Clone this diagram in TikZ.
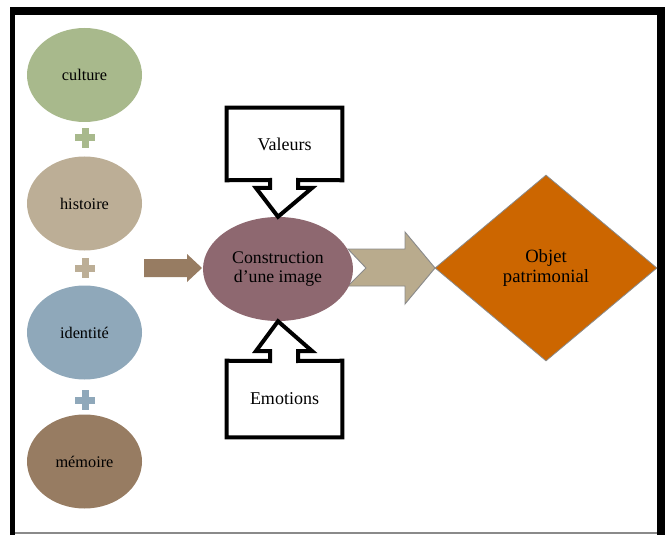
\documentclass[tikz,border=0pt]{standalone}
\usepackage{fontspec}
\setmainfont{Liberation Serif}
\usetikzlibrary{shapes.geometric}

\definecolor{cultureC}{HTML}{A8B98C}
\definecolor{histoireC}{HTML}{BCAE96}
\definecolor{identiteC}{HTML}{8FA8BA}
\definecolor{memoireC}{HTML}{977C62}
\definecolor{constrC}{HTML}{8E6870}
\definecolor{bigarrowC}{HTML}{B9AB8D}
\definecolor{objetC}{HTML}{CC6600}
\definecolor{edgeC}{HTML}{8A8A8A}

\tikzset{
  blob/.style={ellipse, inner sep=0pt, minimum width=86.25pt, minimum height=70.5pt,
    font=\fontsize{12.2}{14}\selectfont},
  calloutbox/.style={inner sep=0pt, minimum width=86.25pt, font=\fontsize{13.5}{15}\selectfont},
  calloutline/.style={draw=black, line width=3pt, line join=miter, fill=white},
}

\begin{document}
\begin{tikzpicture}[x=0.75pt,y=-0.75pt]
\useasboundingbox (0,0) rectangle (665,535);

% outer frame
\fill[black] (10,7) rectangle (665,15);
\fill[black] (10,7) rectangle (15,535);
\fill[black] (657,7) rectangle (665,535);
\draw[edgeC, line width=0.9pt] (15,533) -- (657,533);

% left column of ingredients
\node[blob, fill=cultureC]  (culture)  at (84.5,75)  {culture};
\node[blob, fill=histoireC] (histoire) at (84.5,203.5) {histoire};
\node[blob, fill=identiteC] (identite) at (84.5,332.5) {identité};
\node[blob, fill=memoireC]  (memoire)  at (84.5,461.5) {mémoire};

% plus signs between the ingredients
\foreach \yy/\cc in {138/cultureC, 268/histoireC, 400/identiteC}{
  \fill[\cc] (75,\yy-3.5) rectangle (95,\yy+3.5);
  \fill[\cc] (81.5,\yy-10) rectangle (88.5,\yy+10);
}

% small arrow feeding the construction
\coordinate (sa) at (144,268);
\fill[memoireC] (sa) ++(0,-9) -- ++(43,0) -- ++(0,-5) -- (202,268) -- (187,282)
  -- ++(0,-5) -- ++(-43,0) -- cycle;

% big notched arrow towards the heritage object
\coordinate (ba) at (348,268);
\filldraw[fill=bigarrowC, draw=edgeC, line width=0.7pt] (ba) ++(0,-19) -- (405,249) -- (405,232)
  -- (435,268) -- (405,304) -- (405,286) -- (348,286) -- (366,268) -- cycle;

% central construction
\node[ellipse, fill=constrC, inner sep=0pt, minimum width=112.5pt, minimum height=78pt,
  align=center, font=\fontsize{13.3}{14}\selectfont] (constr) at (278,269)
  {Construction\\d’une image};

% heritage object
\node[diamond, fill=objetC, draw=edgeC, line width=0.6pt, inner sep=0pt,
  minimum width=166.5pt, minimum height=139.5pt, align=center,
  font=\fontsize{14}{15.5}\selectfont] (objet) at (546,268) {Objet\\patrimonial};

% callout: Valeurs
\node[calloutbox, minimum height=54pt] (val) at (284.5,144) {};
\draw[calloutline] (val.south west) -- (val.north west) -- (val.north east) -- (val.south east)
  -- (298,180) -- (298,188) -- (312,188) -- (constr.north) -- (256,188) -- (270,188)
  -- (270,180) -- cycle;
\node[calloutbox] at (val.center) {Valeurs};

% callout: Emotions
\node[calloutbox, minimum height=57pt] (emo) at (284.5,399) {};
\draw[calloutline] (emo.north west) -- (emo.south west) -- (emo.south east) -- (emo.north east)
  -- (298,361) -- (298,351) -- (312,351) -- (constr.south) -- (256,351) -- (270,351)
  -- (270,361) -- cycle;
\node[calloutbox] at (emo.center) {Emotions};
\end{tikzpicture}
\end{document}
